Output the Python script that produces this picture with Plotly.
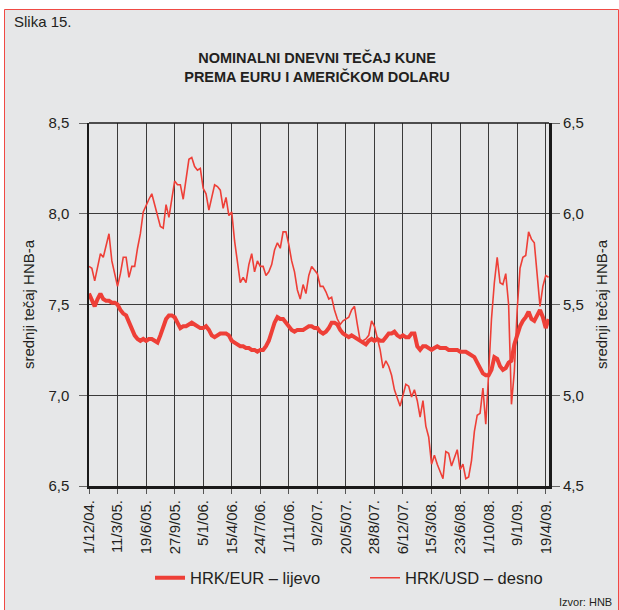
import pandas as pd
import plotly.graph_objects as go

# HRK/EUR (left axis) and HRK/USD (right axis), sampled every 10 days from 1/12/2004
eur = [7.56, 7.52, 7.49, 7.53, 7.56, 7.53, 7.52, 7.52, 7.51, 7.51,
       7.50, 7.47, 7.45, 7.44, 7.40, 7.37, 7.33, 7.31, 7.30, 7.31,
       7.30, 7.31, 7.31, 7.30, 7.29, 7.33, 7.37, 7.42, 7.44, 7.44,
       7.43, 7.40, 7.37, 7.38, 7.38, 7.39, 7.40, 7.39, 7.38, 7.37,
       7.37, 7.38, 7.36, 7.33, 7.32, 7.33, 7.34, 7.34, 7.34, 7.33,
       7.30, 7.29, 7.28, 7.27, 7.27, 7.26, 7.26, 7.25, 7.25, 7.24,
       7.25, 7.25, 7.27, 7.30, 7.35, 7.40, 7.43, 7.42, 7.42, 7.40,
       7.38, 7.36, 7.35, 7.36, 7.36, 7.36, 7.37, 7.38, 7.38, 7.37,
       7.37, 7.35, 7.34, 7.35, 7.37, 7.40, 7.40, 7.39, 7.36, 7.34,
       7.33, 7.32, 7.33, 7.32, 7.31, 7.30, 7.29, 7.28, 7.30, 7.31,
       7.30, 7.31, 7.30, 7.30, 7.32, 7.34, 7.34, 7.35, 7.33, 7.32,
       7.33, 7.32, 7.32, 7.34, 7.34, 7.27, 7.25, 7.27, 7.27, 7.26,
       7.25, 7.26, 7.27, 7.26, 7.26, 7.26, 7.25, 7.25, 7.25, 7.25,
       7.24, 7.24, 7.24, 7.23, 7.22, 7.21, 7.18, 7.15, 7.12, 7.11,
       7.11, 7.14, 7.21, 7.20, 7.16, 7.14, 7.15, 7.18, 7.19, 7.28,
       7.34, 7.38, 7.41, 7.43, 7.46, 7.42, 7.41, 7.44, 7.47, 7.43,
       7.37, 7.42]

usd = [5.71, 5.70, 5.63, 5.70, 5.78, 5.76, 5.82, 5.89, 5.74, 5.67,
       5.60, 5.67, 5.76, 5.76, 5.65, 5.71, 5.71, 5.81, 5.89, 6.01,
       6.05, 6.08, 6.11, 6.05, 6.00, 5.93, 5.92, 6.05, 5.98, 6.07,
       6.18, 6.16, 6.16, 6.08, 6.20, 6.30, 6.31, 6.26, 6.24, 6.25,
       6.14, 6.11, 6.02, 6.09, 6.16, 6.15, 6.13, 6.03, 6.09, 5.99,
       6.01, 5.85, 5.73, 5.62, 5.65, 5.62, 5.72, 5.78, 5.68, 5.74,
       5.71, 5.71, 5.66, 5.68, 5.72, 5.80, 5.84, 5.81, 5.90, 5.90,
       5.83, 5.74, 5.68, 5.58, 5.53, 5.61, 5.56, 5.66, 5.71, 5.69,
       5.67, 5.60, 5.60, 5.57, 5.53, 5.54, 5.47, 5.42, 5.39, 5.41,
       5.42, 5.43, 5.47, 5.49, 5.39, 5.30, 5.30, 5.31, 5.33, 5.41,
       5.38, 5.32, 5.25, 5.15, 5.19, 5.16, 5.11, 5.03, 4.98, 4.94,
       5.00, 5.06, 5.05, 4.99, 5.03, 4.97, 4.88, 4.97, 4.83, 4.77,
       4.62, 4.67, 4.62, 4.58, 4.54, 4.69, 4.68, 4.61, 4.66, 4.70,
       4.59, 4.62, 4.54, 4.55, 4.64, 4.80, 4.89, 4.90, 5.04, 4.84,
       5.12, 5.42, 5.62, 5.76, 5.62, 5.61, 5.67, 5.50, 4.95, 5.13,
       5.47, 5.70, 5.76, 5.77, 5.90, 5.86, 5.84, 5.67, 5.49, 5.60,
       5.66, 5.65]

tick_labels = ["1/12/04.", "11/3/05.", "19/6/05.", "27/9/05.", "5/1/06.",
               "15/4/06.", "24/7/06.", "1/11/06.", "9/2/07.", "20/5/07.",
               "28/8/07.", "6/12/07.", "15/3/08.", "23/6/08.", "1/10/08.",
               "9/1/09.", "19/4/09."]

dates = pd.date_range("2004-12-01", periods=len(eur), freq="10D")
tick_dates = pd.date_range("2004-12-01", periods=len(tick_labels), freq="100D")

RED = "#ee3f37"
GREY = "#e6e7e8"
TXT = "#231f20"
FONT = "Liberation Sans, Arial, sans-serif"

fig = go.Figure()
fig.add_trace(go.Scatter(x=dates, y=eur, mode="lines", name="HRK/EUR – lijevo",
                         line=dict(color=RED, width=4), yaxis="y"))
fig.add_trace(go.Scatter(x=dates, y=usd, mode="lines", name="HRK/USD – desno",
                         line=dict(color=RED, width=1.6), yaxis="y2"))

L, R, T, B = 89, 70, 123, 124
W, H = 619, 610
pw, ph = W - L - R, H - T - B

def px(xp):
    return (xp - L) / pw

def py(yp):
    return (H - B - yp) / ph

fig.update_layout(
    width=W, height=H,
    margin=dict(l=L, r=R, t=T, b=B),
    paper_bgcolor="white", plot_bgcolor=GREY,
    separators=", ",
    font=dict(family=FONT, size=15, color=TXT),
    title=dict(text="<b>NOMINALNI DNEVNI TEČAJ KUNE<br>PREMA EURU I AMERIČKOM DOLARU</b>",
               x=317 / W, xanchor="center", y=1 - 63 / H, yanchor="middle",
               font=dict(size=14.5, color=TXT, family=FONT)),
    xaxis=dict(type="date", range=["2004-12-01", "2009-04-30 12:00"],
               tickmode="array", tickvals=tick_dates, ticktext=tick_labels,
               tickangle=-90, ticks="outside", ticklen=5, tickcolor="#555",
               tickfont=dict(size=15), showgrid=True, gridcolor="#3a3a3a", gridwidth=1,
               showline=True, linecolor="#1a1a1a", linewidth=3, zeroline=False),
    yaxis=dict(range=[6.5, 8.5], tick0=6.5, dtick=0.5, tickformat=".1f",
               ticks="outside", ticklen=8, tickcolor="#666", ticklabelstandoff=7,
               showgrid=True, gridcolor="#3a3a3a", gridwidth=1, zeroline=False,
               showline=True, linecolor="#1a1a1a", linewidth=1.5,
               title=dict(text="srednji tečaj HNB-a", standoff=10, font=dict(size=15))),
    yaxis2=dict(range=[4.5, 6.5], tick0=4.5, dtick=0.5, tickformat=".1f",
                overlaying="y", side="right",
                ticks="outside", ticklen=8, tickcolor="#666",
                showgrid=False, zeroline=False,
                showline=True, linecolor="#1a1a1a", linewidth=3,
                title=dict(text="srednji tečaj HNB-a", standoff=14, font=dict(size=15))),
    legend=dict(orientation="h", x=px(150), xanchor="left", y=py(578), yanchor="middle",
                bgcolor="rgba(0,0,0,0)", font=dict(size=16.5),
                entrywidth=170, entrywidthmode="pixels"),
    shapes=[
        dict(type="rect", xref="paper", yref="paper", layer="below",
             x0=px(4.5), x1=px(618.5), y0=py(614), y1=py(9.5),
             fillcolor=GREY, line=dict(color="#f04a44", width=1)),
        dict(type="line", xref="paper", yref="paper", x0=0, x1=1, y0=1, y1=1,
             line=dict(color="#1a1a1a", width=1.5)),
    ],
    annotations=[
        dict(text="Slika 15.", xref="paper", yref="paper", x=px(12), y=py(22),
             xanchor="left", yanchor="middle", showarrow=False, font=dict(size=15)),
        dict(text="Izvor: HNB", xref="paper", yref="paper", x=px(614), y=py(602),
             xanchor="right", yanchor="middle", showarrow=False, font=dict(size=11)),
    ],
)

fig.write_html("out.html", config={"displayModeBar": False},
               post_script="document.body.style.margin='0';document.body.style.overflow='hidden';")
